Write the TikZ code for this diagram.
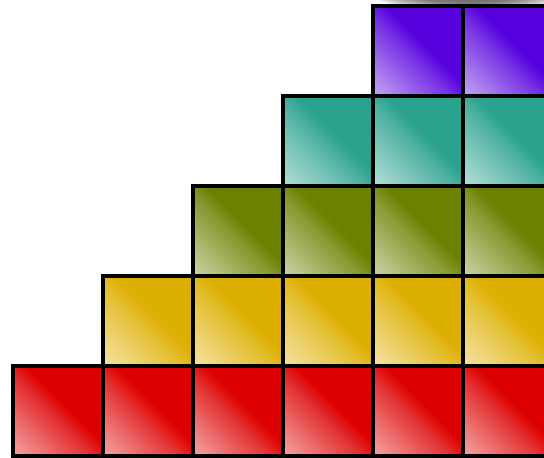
\documentclass[tikz,border=0pt]{standalone}
\usepackage{tikz}
\usetikzlibrary{positioning}
\definecolor{brickred}{HTML}{DD0000}
\definecolor{brickyellow}{HTML}{DDAF00}
\definecolor{brickolive}{HTML}{6B8200}
\definecolor{brickteal}{HTML}{2AA28E}
\definecolor{brickpurple}{HTML}{5500DD}
\colorlet{brickbase}{brickred}
\pgfdeclarehorizontalshading[brickbase]{brickshine}{100bp}{%
  color(0bp)=(brickbase!30!white); color(15bp)=(brickbase!35!white);
  color(45bp)=(brickbase!80!white); color(55bp)=(brickbase); color(100bp)=(brickbase)}
\pgfdeclareradialshading{topshadow}{\pgfpoint{0bp}{0bp}}{%
  color(0bp)=(black!65); color(14bp)=(black!50); color(22bp)=(black!20); color(25bp)=(white)}
\tikzset{
  every picture/.style={line join=miter},
  brick/.style={draw=black, line width=1.3pt, minimum size=1cm, inner sep=0pt,
    anchor=south west, shading=brickshine, shading angle=45},
}
\begin{document}
\begin{tikzpicture}
\useasboundingbox (0,0) rectangle (6.044,5.078);
\clip (0,0) rectangle (6.044,5.078);
% faint shadow cut off at the top
\shade[shading=topshadow] (5.2,5.14) ellipse[x radius=1.1, y radius=0.17];
% rows of bricks, bottom to top
\foreach \colr [count=\r from 0] in {brickred,brickyellow,brickolive,brickteal,brickpurple}{
  \colorlet{brickbase}{\colr}
  \foreach \c in {\r,...,5}
    \node[brick] (b\r\c) at ({0.122+\c},{\r-0.011}) {};
}
\end{tikzpicture}
\end{document}
